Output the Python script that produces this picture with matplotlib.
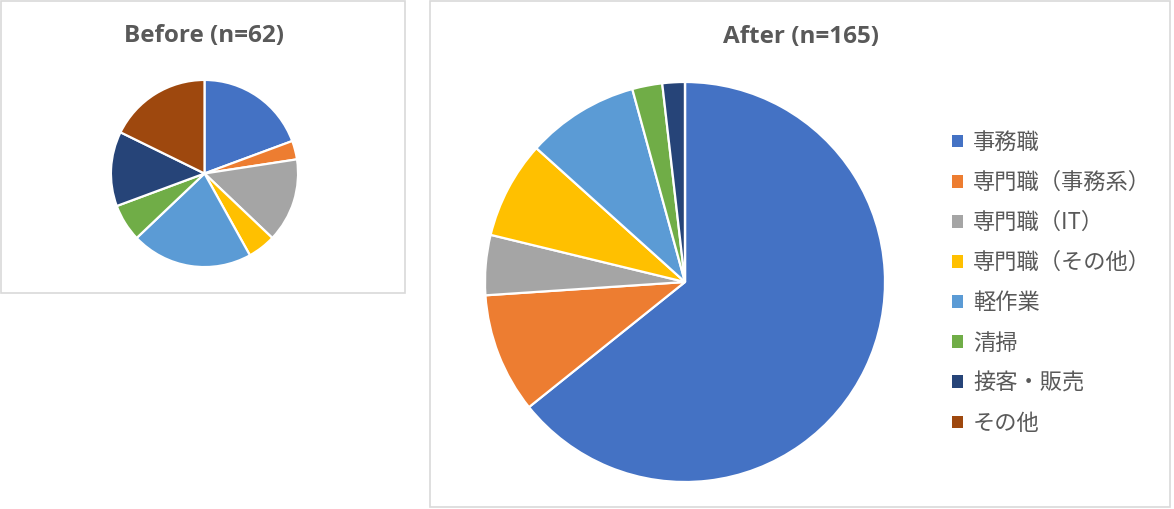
import matplotlib
matplotlib.use("Agg")
import matplotlib.pyplot as plt
from matplotlib.patches import Rectangle, Patch

plt.rcParams['font.family'] = ['Noto Sans CJK JP', 'DejaVu Sans']

categories = ["事務職", "専門職（事務系）", "専門職（IT）", "専門職（その他）",
              "軽作業", "清掃", "接客・販売", "その他"]
before_values = [12, 2, 9, 3, 13, 4, 8, 11]
after_values = [106, 16, 8, 13, 15, 4, 3, 0]
colors = ["#4472C4", "#ED7D31", "#A5A5A5", "#FFC000",
          "#5B9BD5", "#70AD47", "#264478", "#9E480E"]
before_title = "Before (n=62)"
after_title = "After (n=165)"

W, H = 1174, 509
fig = plt.figure(figsize=(W / 100, H / 100), dpi=100)
fig.patch.set_facecolor("white")

def box(x0, y0, x1, y1):
    return [x0 / W, 1 - y1 / H, (x1 - x0) / W, (y1 - y0) / H]

# panel frames
for (x0, y0, x1, y1) in [(1, 1, 405, 293), (430, 1, 1170, 507)]:
    fig.patches.append(Rectangle((x0 / W, 1 - y1 / H), (x1 - x0) / W, (y1 - y0) / H,
                                 transform=fig.transFigure, fill=False,
                                 edgecolor="#D9D9D9", linewidth=1.2))

wedgeprops = dict(edgecolor="white", linewidth=1.6)

ax1 = fig.add_axes(box(110, 79, 299, 268))
ax1.pie(before_values, colors=colors, startangle=90, counterclock=False,
        wedgeprops=wedgeprops)
ax1.set_xlim(-1.01, 1.01)
ax1.set_ylim(-1.01, 1.01)
ax1.set_aspect("auto")
ax1.axis("off")

ax2 = fig.add_axes(box(483, 80, 887, 484))
ax2.pie(after_values, colors=colors, startangle=90, counterclock=False,
        wedgeprops=wedgeprops)
ax2.set_xlim(-1.01, 1.01)
ax2.set_ylim(-1.01, 1.01)
ax2.set_aspect("auto")
ax2.axis("off")

title_kw = dict(ha="center", va="center", fontsize=17.5, fontweight="bold",
                color="#595959", family=["Open Sans", "DejaVu Sans"])
fig.text(204 / W, 1 - 36 / H, before_title, **title_kw)
fig.text(801 / W, 1 - 37 / H, after_title, **title_kw)

handles = [Patch(facecolor=c, edgecolor="none") for c in colors]
leg = fig.legend(handles, categories, loc="upper left",
                 bbox_to_anchor=(952 / W, 1 - 131 / H),
                 frameon=False, fontsize=16, labelcolor="#595959",
                 handlelength=0.5, handleheight=0.5, handletextpad=0.45,
                 labelspacing=0.77, borderaxespad=0, borderpad=0)

fig.savefig("out.png", dpi=100)
